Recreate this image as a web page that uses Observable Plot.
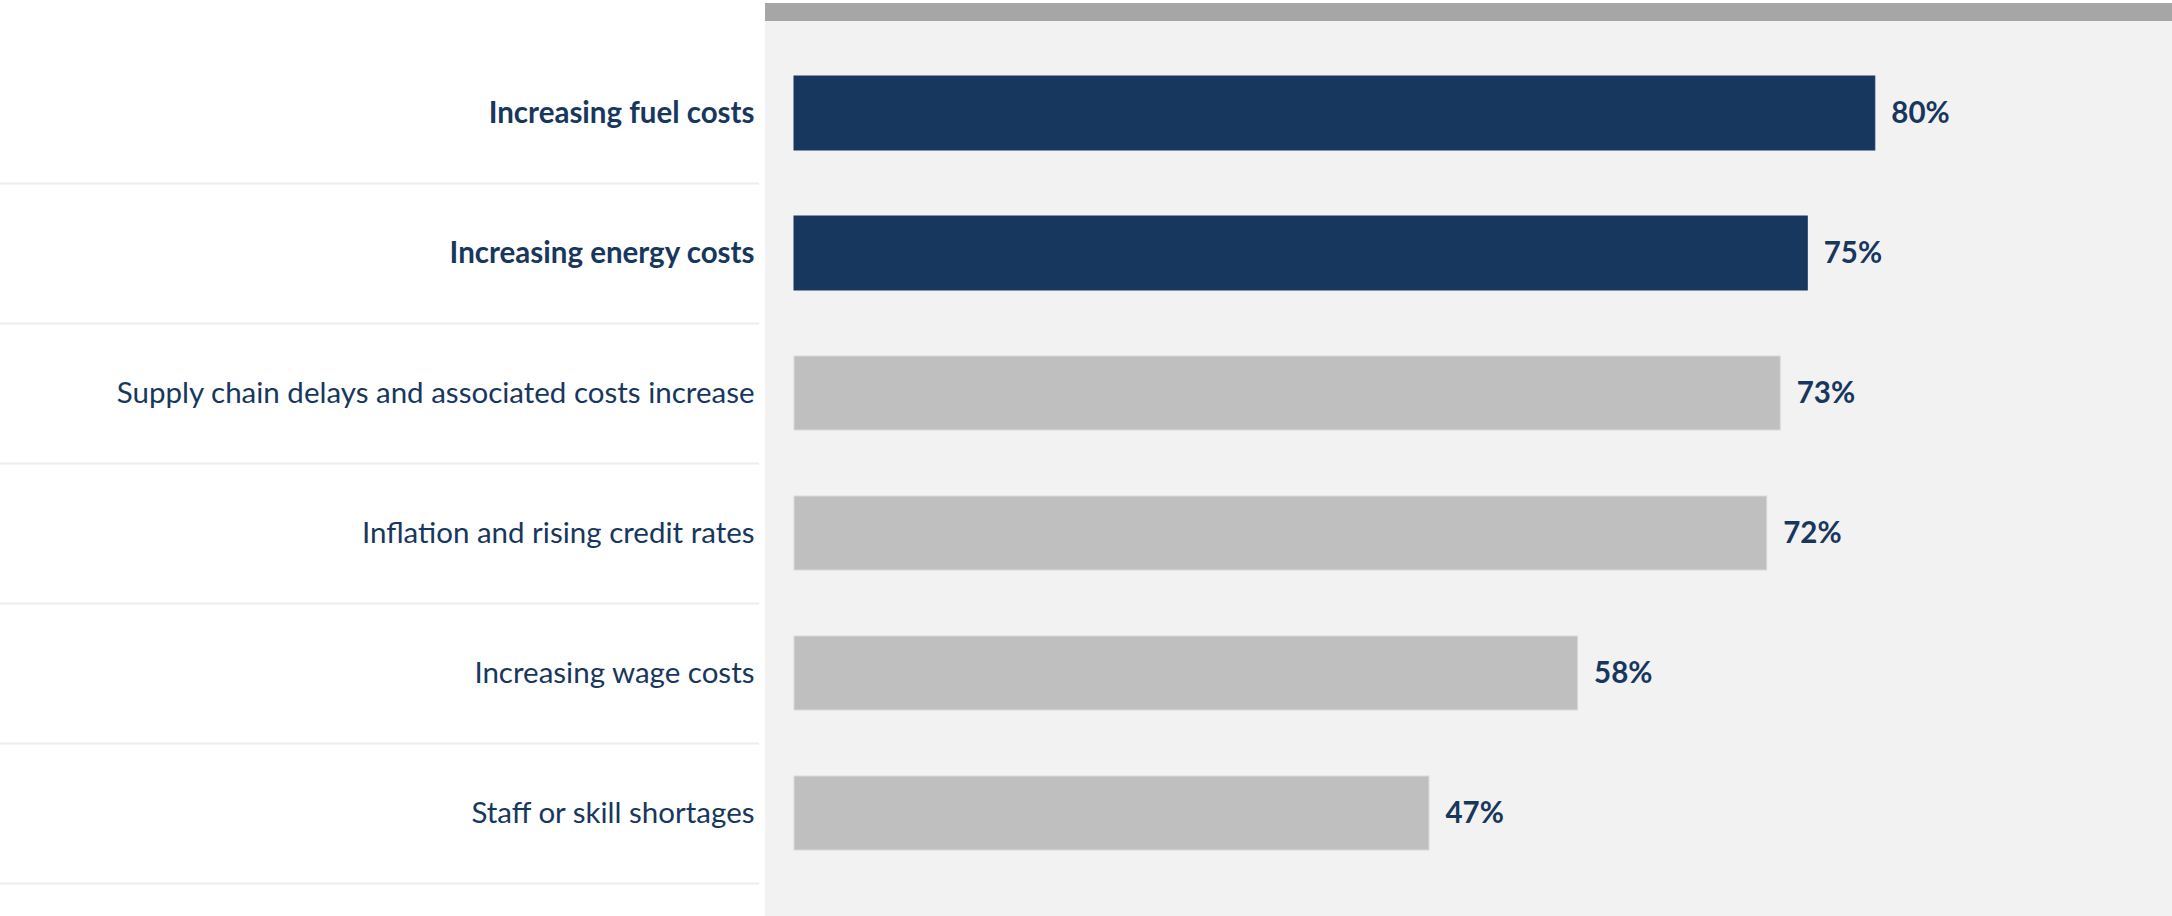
<!DOCTYPE html>
<html><head><meta charset="utf-8">
<script src="https://cdn.jsdelivr.net/npm/d3@7"></script>
<script src="https://cdn.jsdelivr.net/npm/@observablehq/plot@0.6"></script>
<style>
html,body{margin:0;padding:0;background:#fff;}
#wrap{position:relative;width:2172px;height:916px;overflow:hidden;}
#panel{position:absolute;left:765px;top:3px;right:0;bottom:0;background:#f2f2f2;}
#stripe{position:absolute;left:765px;top:3px;right:0;height:18px;background:#a6a6a6;}
#chart{position:absolute;left:0;top:0;}
</style></head><body>
<div id="wrap"><div id="panel"></div><div id="stripe"></div><div id="chart"></div></div>
<script>
const categories = [
  "Increasing fuel costs",
  "Increasing energy costs",
  "Supply chain delays and associated costs increase",
  "Inflation and rising credit rates",
  "Increasing wage costs",
  "Staff or skill shortages"
];
const values = [80, 75, 73, 72, 58, 47];
const highlighted = [true, true, false, false, false, false];

const data = categories.map((c, i) => ({category: c, value: values[i], highlight: highlighted[i]}));
const navy = "#18375e";
const font = "Lato, 'Open Sans', sans-serif";
const fs = 29.5;

const chart = Plot.plot({
  width: 2172, height: 916,
  marginLeft: 794, marginRight: 27, marginTop: 43, marginBottom: 33,
  style: {background: "transparent", fontFamily: font, color: navy},
  x: {domain: [0, 100], axis: null},
  y: {domain: categories, padding: 0, axis: null},
  marks: [
    Plot.axisY({tickSize: 759, dx: -35, dy: 70, stroke: "#ededed", strokeWidth: 2, tickFormat: () => "", label: null}),
    Plot.barX(data, {x: "value", y: "category",
      fill: d => d.highlight ? navy : "#bfbfbf",
      stroke: d => d.highlight ? navy : "#d9d9d9", strokeWidth: 1,
      insetTop: 33, insetBottom: 33}),
    Plot.text(data.filter(d => d.highlight), {x: 0, y: "category", text: "category", dx: -40,
      textAnchor: "end", fontWeight: "bold", fontSize: fs, fill: navy}),
    Plot.text(data.filter(d => !d.highlight), {x: 0, y: "category", text: "category", dx: -40,
      textAnchor: "end", fontWeight: "normal", fontSize: fs, fill: navy}),
    Plot.text(data, {x: "value", y: "category", text: d => `${d.value}%`, dx: 16,
      textAnchor: "start", fontWeight: "bold", fontSize: fs, fill: navy})
  ]
});
document.getElementById("chart").appendChild(chart);
</script>
</body></html>
